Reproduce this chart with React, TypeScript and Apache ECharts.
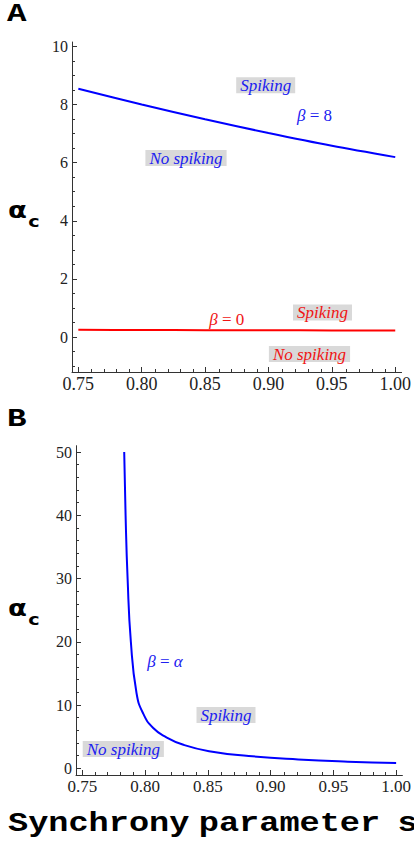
import React, { useEffect, useRef } from "react";
import * as echarts from "echarts";

// ---------- data ----------
const xTicks = [0.75, 0.8, 0.85, 0.9, 0.95, 1.0];
const yTicksA = [0, 2, 4, 6, 8, 10];
const yTicksB = [0, 10, 20, 30, 40, 50];

// panel A: s values and critical alpha for beta = 8 and beta = 0
const sA = [0.75, 0.8, 0.85, 0.9, 0.95, 1.0];
const beta8 = [8.54, 8.0, 7.49, 7.02, 6.58, 6.19];
const beta0 = [0.25, 0.245, 0.24, 0.235, 0.23, 0.225];

// panel B: beta = alpha
const sB = [0.7834, 0.7845, 0.7861, 0.7887, 0.7932, 0.7984, 0.8063, 0.817, 0.83, 0.851, 0.8826, 0.922, 0.9616, 1.0];
const betaAlpha = [50, 40, 30, 20, 11.9, 8.7, 6.4, 4.9, 3.75, 2.7, 1.95, 1.4, 1.05, 0.85];

// ---------- helpers ----------
const SERIF = "Liberation Serif";
const MONO = "Liberation Mono";
const SANS = "DejaVu Sans";
const BLUE = "#0000ff";
const RED = "#ff0000";
const BLUE_TXT = "#2020f0";
const RED_TXT = "#f01414";
const BOX = "#d9d9d9";
const AXIS = "#333333";

function minorBetween(majors: number[], step: number, lo: number, hi: number): number[] {
  const out: number[] = [];
  const n = Math.round((hi - lo) / step);
  for (let i = 0; i <= n; i++) {
    const v = +(lo + i * step).toFixed(6);
    if (!majors.some((m) => Math.abs(m - v) < 1e-9)) out.push(v);
  }
  return out;
}

const xMinor = minorBetween(xTicks, 0.01, 0.75, 1.0);
const yMinorA = minorBetween(yTicksA, 0.5, -1, 10);
const yMinorB = minorBetween(yTicksB, 2, 2, 50);

const X_MIN = 0.745;
const X_MAX = 1.005;

function zip(xs: number[], ys: number[]) {
  return xs.map((x, i) => [x, ys[i]]);
}

function xMain(gridIndex: number, fontSize: number) {
  return {
    type: "value",
    gridIndex,
    min: X_MIN,
    max: X_MAX,
    position: "bottom",
    axisLine: { show: true, onZero: false, lineStyle: { color: AXIS, width: 1 } },
    axisTick: { show: true, inside: true, length: 5, customValues: xTicks, lineStyle: { color: AXIS } },
    axisLabel: {
      show: true,
      customValues: xTicks,
      formatter: (v: number) => v.toFixed(2),
      fontSize,
      fontFamily: SERIF,
      color: "#222",
      margin: 3,
    },
    splitLine: { show: false },
  };
}
function xMinorAxis(gridIndex: number) {
  return {
    type: "value",
    gridIndex,
    min: X_MIN,
    max: X_MAX,
    position: "bottom",
    axisLine: { show: false, onZero: false },
    axisTick: { show: true, inside: true, length: 3, customValues: xMinor, lineStyle: { color: AXIS } },
    axisLabel: { show: false },
    splitLine: { show: false },
  };
}
function yMain(gridIndex: number, min: number, max: number, ticks: number[]) {
  return {
    type: "value",
    gridIndex,
    min,
    max,
    position: "left",
    axisLine: { show: true, onZero: false, lineStyle: { color: AXIS, width: 1 } },
    axisTick: { show: true, inside: true, length: 5, customValues: ticks, lineStyle: { color: AXIS } },
    axisLabel: {
      show: true,
      customValues: ticks,
      formatter: (v: number) => String(v),
      fontSize: 16,
      fontFamily: SERIF,
      color: "#222",
      margin: 4,
    },
    splitLine: { show: false },
  };
}
function yMinorAxis(gridIndex: number, min: number, max: number, ticks: number[]) {
  return {
    type: "value",
    gridIndex,
    min,
    max,
    position: "left",
    axisLine: { show: false, onZero: false },
    axisTick: { show: true, inside: true, length: 3, customValues: ticks, lineStyle: { color: AXIS } },
    axisLabel: { show: false },
    splitLine: { show: false },
  };
}

function boxLabel(text: string, x: number, y: number, color: string) {
  return {
    type: "text",
    x,
    y,
    silent: true,
    style: {
      text,
      fontFamily: SERIF,
      fontStyle: "italic",
      fontSize: 17,
      fill: color,
      align: "center",
      verticalAlign: "middle",
      backgroundColor: BOX,
      padding: [0, 4, 0, 4],
      lineHeight: 16,
    },
  };
}

function betaLabel(rhs: string, rhsItalic: boolean, x: number, y: number, color: string) {
  const base = { fontFamily: SERIF, fontSize: 17, fill: color };
  return {
    type: "text",
    x,
    y,
    silent: true,
    style: {
      text: `{i|β}{n| = }{r|${rhs}}`,
      ...base,
      align: "center",
      verticalAlign: "middle",
      rich: {
        i: { ...base, fontStyle: "italic" },
        n: { ...base, fontStyle: "normal" },
        r: { ...base, fontStyle: rhsItalic ? "italic" : "normal" },
      },
    },
  };
}

function panelLetter(text: string, y: number) {
  return {
    type: "text",
    x: 7,
    y,
    scaleX: 1.25,
    silent: true,
    style: {
      text,
      fontFamily: MONO,
      fontWeight: "bold",
      fontSize: 26,
      fill: "#000",
      align: "left",
      verticalAlign: "middle",
    },
  };
}

function alphaC(y: number) {
  return {
    type: "text",
    x: 8,
    y,
    scaleX: 1.2,
    silent: true,
    style: {
      text: "{a|α}{c|c}",
      fill: "#000",
      align: "left",
      verticalAlign: "middle",
      rich: {
        a: { fontFamily: SANS, fontWeight: "bold", fontSize: 23, fill: "#000", verticalAlign: "bottom", padding: [0, 1, 9, 0] },
        c: { fontFamily: SANS, fontWeight: "bold", fontSize: 16, fill: "#000", verticalAlign: "bottom" },
      },
    },
  };
}

export default function App() {
  const ref = useRef<HTMLDivElement>(null);

  useEffect(() => {
    if (!ref.current) return;
    const chart = echarts.init(ref.current, undefined, { renderer: "svg" });
    const option: any = {
      animation: false,
      backgroundColor: "#ffffff",
      grid: [
        { left: 72, top: 42, width: 332, height: 330 },
        { left: 72, top: 42, width: 332, height: 330 },
        { left: 76, top: 445.7, width: 328.7, height: 329.3 },
        { left: 76, top: 445.7, width: 328.7, height: 329.3 },
      ],
      xAxis: [xMain(0, 18), xMinorAxis(1), xMain(2, 17), xMinorAxis(3)],
      yAxis: [
        yMain(0, -1.2, 10.15, yTicksA),
        yMinorAxis(1, -1.2, 10.15, yMinorA),
        yMain(2, -1.06, 51, yTicksB),
        yMinorAxis(3, -1.06, 51, yMinorB),
      ],
      series: [
        {
          type: "line",
          name: "β = 8",
          xAxisIndex: 0,
          yAxisIndex: 0,
          data: zip(sA, beta8),
          symbol: "none",
          smooth: 0.3,
          lineStyle: { color: BLUE, width: 2 },
        },
        {
          type: "line",
          name: "β = 0",
          xAxisIndex: 0,
          yAxisIndex: 0,
          data: zip(sA, beta0),
          symbol: "none",
          smooth: 0.3,
          lineStyle: { color: RED, width: 2 },
        },
        {
          type: "line",
          name: "β = α",
          xAxisIndex: 2,
          yAxisIndex: 2,
          data: zip(sB, betaAlpha),
          symbol: "none",
          smooth: 0.5,
          lineStyle: { color: BLUE, width: 2 },
        },
      ],
      graphic: [
        panelLetter("A", 14),
        panelLetter("B", 419),
        alphaC(214),
        alphaC(612),
        boxLabel("Spiking", 265.7, 85.2, BLUE_TXT),
        boxLabel("No spiking", 186, 158, BLUE_TXT),
        betaLabel("8", false, 314.5, 115.5, BLUE_TXT),
        betaLabel("0", false, 226.7, 319, RED_TXT),
        boxLabel("Spiking", 322.5, 312.5, RED_TXT),
        boxLabel("No spiking", 309.5, 354, RED_TXT),
        betaLabel("α", true, 165, 661, BLUE_TXT),
        boxLabel("Spiking", 226, 715, BLUE_TXT),
        boxLabel("No spiking", 123.3, 749, BLUE_TXT),
        {
          type: "text",
          x: 8,
          y: 823,
          scaleX: 1.2,
          silent: true,
          style: {
            text: "{w|Synchrony}{s1| }{w|parameter}{s2| }{w|s}",
            fill: "#000",
            align: "left",
            verticalAlign: "middle",
            rich: {
              w: { fontFamily: MONO, fontWeight: "bold", fontSize: 28, fill: "#000" },
              s1: { fontFamily: MONO, fontWeight: "bold", fontSize: 13, fill: "#000" },
              s2: { fontFamily: MONO, fontWeight: "bold", fontSize: 24, fill: "#000" },
            },
          },
        },
      ],
    };
    chart.setOption(option);
    return () => chart.dispose();
  }, []);

  return (
    <div
      ref={ref}
      style={{ position: "absolute", left: 0, top: 0, width: 414, height: 844, background: "#fff" }}
    />
  );
}
